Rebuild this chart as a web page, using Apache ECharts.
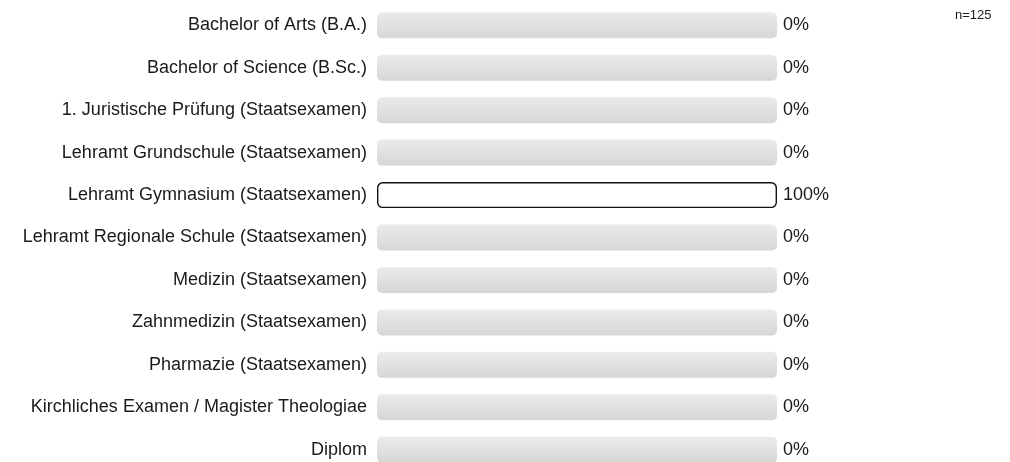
<!DOCTYPE html>
<html>
<head>
<meta charset="UTF-8">
<script src="https://cdn.jsdelivr.net/npm/echarts@6/dist/echarts.min.js"></script>
<title>Abschluss</title>
<style type="text/css">
body{
	padding:0;
	margin:0;
	background:#fff;
}
#main{
	width:1010px;
	height:462px;
}
</style>
</head>
<body>
<div id="main"></div>
<script type="text/javascript">
var categories = [
	'Bachelor of Arts (B.A.)',
	'Bachelor of Science (B.Sc.)',
	'1. Juristische Prüfung (Staatsexamen)',
	'Lehramt Grundschule (Staatsexamen)',
	'Lehramt Gymnasium (Staatsexamen)',
	'Lehramt Regionale Schule (Staatsexamen)',
	'Medizin (Staatsexamen)',
	'Zahnmedizin (Staatsexamen)',
	'Pharmazie (Staatsexamen)',
	'Kirchliches Examen / Magister Theologiae',
	'Diplom'
];
var percents = [0, 0, 0, 0, 100, 0, 0, 0, 0, 0, 0];
var sampleSize = 'n=125';

var percentLabels = percents.map(function (p) { return p + '%'; });

// only bars that actually have a value get the black outline
var barData = percents.map(function (p) {
	return {
		value: p,
		itemStyle: { borderWidth: p > 0 ? 1.4 : 0 }
	};
});

var myChart = echarts.init(document.getElementById('main'));

var option = {
	animation: false,
	grid: {
		left: 377,
		right: 233,
		top: 4,
		height: 467,
		outerBoundsMode: 'none'
	},
	xAxis: {
		type: 'value',
		min: 0,
		max: 100,
		show: false
	},
	yAxis: [
		{
			type: 'category',
			data: categories,
			inverse: true,
			axisLine: { show: false },
			axisTick: { show: false },
			splitLine: { show: false },
			axisLabel: {
				margin: 10,
				fontFamily: 'Liberation Sans, Arial, sans-serif',
				fontSize: 18,
				color: '#1a1a1a'
			}
		},
		{
			type: 'category',
			data: percentLabels,
			inverse: true,
			position: 'right',
			axisLine: { show: false },
			axisTick: { show: false },
			splitLine: { show: false },
			axisLabel: {
				margin: 6,
				fontFamily: 'Liberation Sans, Arial, sans-serif',
				fontSize: 18,
				color: '#1a1a1a'
			}
		}
	],
	series: [
		{
			type: 'bar',
			data: barData,
			barWidth: 26,
			showBackground: true,
			backgroundStyle: {
				borderRadius: 5,
				color: {
					type: 'linear', x: 0, y: 0, x2: 0, y2: 1,
					colorStops: [
						{ offset: 0, color: '#ebebeb' },
						{ offset: 1, color: '#d6d6d6' }
					]
				}
			},
			itemStyle: {
				color: '#ffffff',
				borderColor: '#111111',
				borderRadius: 5
			}
		}
	],
	graphic: [
		{
			type: 'text',
			left: 955,
			top: 9,
			style: {
				text: sampleSize,
				fontFamily: 'Liberation Sans, Arial, sans-serif',
				fontSize: 13,
				fill: '#1a1a1a'
			}
		}
	]
};

myChart.setOption(option);
</script>
</body>
</html>
